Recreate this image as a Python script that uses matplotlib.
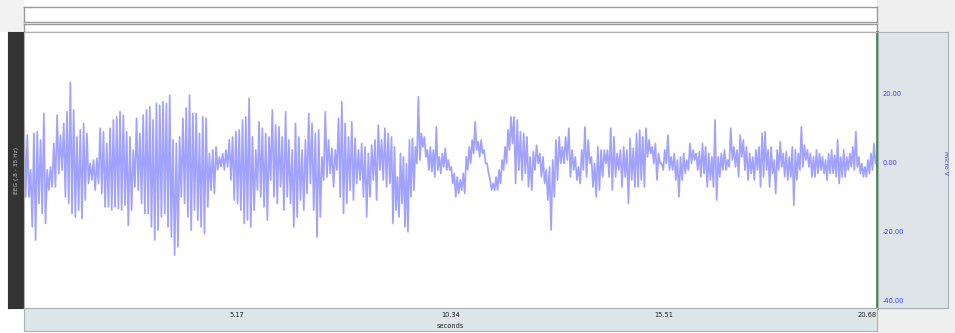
import numpy as np
import matplotlib
matplotlib.use("Agg")
import matplotlib.pyplot as plt

# ---- data (micro V), alternating peak / trough values ----
seg1 = [13.4, -9.8, 8.1, -9.8, -2.0, -18.5, 8.6, -22.3, 9.1, -11.7, 6.7, -14.6, 14.4, -17.5,
        -2.0, -7.8, -1.1, -6.9, 5.7, -6.9, 13.9, -3.0, 8.1, -2.0, 11.5, -9.8, 14.9, -11.7,
        23.3, -14.6, 15.4, -15.6, 7.6, -13.6, 9.6, -16.1, 11.5, -10.7, 8.6, -5.9, -0.1, -4.9,
        0.9, -7.8, 1.4, -5.9, 10.1, -8.8, 9.1, -12.7, 5.7, -12.7, 10.1, -13.6, 12.5, -12.7,
        13.4, -13.2, 14.9, -13.6, 13.9, -12.2, 9.1, -18.0, 7.6, -13.6, 3.8, -6.9, 13.0, -7.8,
        8.6, -11.7, 13.9, -14.6]
seg2 = [15.4, -14.6, 16.3, -18.5, 12.5, -22.3, 17.3, -19.4, 16.8, -15.6, 17.8, -14.6,
        17.3, -18.5, 19.7, -21.4, 6.7, -26.7, 5.7, -24.3, 7.6, -9.8, 13.0, -11.7, 15.9, -15.6,
        19.7, -19.4, 14.4, -13.6, 14.4, -16.5, 8.6, -18.5, 13.4, -20.4, 13.0, -12.7, 2.8, -7.8,
        3.8, -8.8, 4.7, -2.0, 1.8, -1.1, 2.8, -2.0, 3.8, -1.1, 6.7, -4.9, 7.6, -10.7, 9.1, -11.7,
        9.6, -13.6, 12.5, -17.5, 13.4, -16.5, 18.8, -18.5, 7.6, -13.6, 3.8, -7.8, 12.0, -9.8,
        10.1, -12.7, 8.6, -16.5]
seg3 = [7.6, -4.9, 15.4, -9.8, 11.0, -11.7, 10.5, -6.9, 7.6, -13.6, 14.9, -9.8, 6.7, -11.7,
        3.8, -18.5, 11.5, -15.6, 7.6, -10.7, 3.8, -13.6, 6.7, -8.8, 14.4, -5.9, 11.5, -13.6,
        8.6, -21.4, 9.6, -15.6, 1.8, -4.9, 14.9, -4.0, 6.7, -3.0, 4.3, -6.9, 3.8, -2.0, 13.0, -9.8,
        17.8, -14.6, 11.5, -11.7, 7.6, -7.8, 12.0, -10.7, 7.2, -5.9, 3.8, -4.9, 5.7, -9.8,
        4.7, -15.6, 2.8, -9.8, 5.2, -4.9, 6.7, -10.7, 11.0, -2.0, 6.7, -4.9, 10.1, -6.9, 8.6, -5.9]
seg4 = [7.6, -17.5, 4.7, -13.6, -4.0, -15.6, 2.8, -11.7, 1.8, -18.5, -0.1, -19.9, 6.7, -9.8,
        7.2, -7.8, 4.7, -0.1, 19.2, 0.9, 8.6, 4.7, 7.6, 1.8, 3.8, -2.0, 4.7, -2.5, 3.8, -4.0,
        10.5, -2.0, 1.8, -3.0, 2.8, -1.1, 4.3, -2.0, 0.9, -2.0, -1.1, -5.9, -3.0, -9.8, -4.0, -8.8,
        -4.9, -7.8, -3.0, -8.8, 1.8, -2.0, 4.7, -0.1, 6.7, 2.8, 12.0, 3.8, 6.2, 1.8, 6.7, 2.8,
        3.8, -0.1, -0.1, -3.0, -4.9, -7.8, -5.9, -7.8, -4.0, -7.8, -2.0, -5.9, 0.9, -2.0,
        4.7, -0.1, 9.6, 3.8, 13.4, 5.7]
seg5 = [13.4, -5.9, 12.5, -2.0, 9.1, -4.9, 8.6, -3.0, 7.6, -6.9, 1.8, -7.8, 3.3, -2.0,
        5.2, -0.1, 2.8, -4.0, 1.8, -5.9, -2.0, -10.7, -1.1, -19.4, 0.9, -9.8, 6.7, -4.9,
        7.6, -0.1, 4.7, -0.1, 7.6, 0.9, 10.1, -4.0, 3.8, -2.0, 1.8, -4.9, -1.1, -5.9, 3.8, -2.0,
        10.5, -4.0, 6.7, -0.1, 1.8, -6.9, -0.1, -9.8, 4.7, -7.8, 3.8, -4.0, 3.8, -0.1, 3.8, -4.0,
        10.1, -7.8, 7.6, -4.0, 2.8, -2.0, 3.8, -6.9, 4.7, -4.0, 3.8, -11.7, 7.2, -4.9, 4.3, -6.9]
seg6 = [8.6, -6.9, 9.6, -4.9, 7.6, -6.9, 10.1, 1.8, 6.7, 2.8, 4.7, -0.1, 5.7, -4.9,
        2.8, -0.1, -0.1, -2.0, 3.8, -0.1, 8.1, -2.0, 1.8, -2.0, 2.8, -4.9, 0.9, -9.8,
        1.8, -4.9, 2.8, -3.0, 0.9, -2.0, 5.7, -0.1, 3.8, 0.9, 2.8, -2.0, 3.3, -4.0, 5.7, -3.0,
        4.7, -6.9, 2.8, -4.9, 1.8, -6.9, 12.5, -10.7, 1.8, -4.0, 2.8, -2.0, 3.8, -2.0,
        0.9, -1.1, 10.1, 0.9, 4.7, -1.1, 3.8, -4.0, 8.1, 1.8, 6.7, -2.0, 4.7, -4.9, 2.8, -3.0,
        1.8, -4.9, 3.8, -2.0]
seg7 = [4.7, -6.9, 8.6, -4.0, 9.1, -2.0, 3.8, -6.9, 4.7, -3.0, 0.9, -8.8, 3.8, -2.0,
        6.2, -1.1, 2.8, -4.0, 3.3, -4.9, 1.8, -4.0, 4.7, -12.2, 3.8, -4.9, 2.8, -2.0,
        10.5, -1.1, 5.2, 0.9, 3.8, -1.1, 2.8, -4.0, 1.8, -4.0, 3.8, -3.0, 2.8, -2.0, 1.8, -3.0,
        0.9, -4.9, 2.8, -3.0, 3.8, -3.0, 2.3, -4.0, 6.7, -5.9, 1.8, -4.0, 3.8, -4.0, 1.8, -2.0,
        2.8, -1.1, 4.7, -2.0, 9.1, -1.1, 1.8, -3.0, -0.1, -4.0, -1.1, -4.0, 0.9, -3.0,
        2.8, -2.0, 5.7, -0.1]
segments = [seg1, seg2, seg3, seg4, seg5, seg6, seg7]
seg_bounds = [0.0, 2.97, 5.94, 8.91, 11.88, 14.85, 17.82, 20.68]   # seconds

x_ticks = [5.17, 10.34, 15.51, 20.68]
y_ticks = [20, 0, -20, -40]
x_label = "seconds"
y_label = "micro V"
channel_label = "EEG (.8 - 35 Hz)"

# ---- build time axis ----
t_all, v_all = [], []
for seg, a, b in zip(segments, seg_bounds[:-1], seg_bounds[1:]):
    t_all.append(np.linspace(a, b, len(seg), endpoint=False))
    v_all.append(np.asarray(seg, dtype=float))
t_all = np.concatenate(t_all)
v_all = np.concatenate(v_all)

W, H = 955, 333
fig = plt.figure(figsize=(W / 100, H / 100), dpi=100)
fig.patch.set_facecolor("white")

def fax(x0, y0, x1, y1, **kw):
    """axes from pixel box (top-left origin)"""
    return fig.add_axes([x0 / W, 1 - y1 / H, (x1 - x0) / W, (y1 - y0) / H], **kw)

def clean(a):
    a.set_xticks([]); a.set_yticks([])

# light gray background areas
bg = fax(877, 0, 955, 333)
bg.set_facecolor("#efefef"); clean(bg)
for s in bg.spines.values(): s.set_visible(False)
bg2 = fax(0, 0, 24, 32)
bg2.set_facecolor("#f2f2f2"); clean(bg2)
for s in bg2.spines.values(): s.set_visible(False)

# top bars
for (y0, y1) in [(7, 22), (24, 32)]:
    tb = fax(24, y0, 877, y1)
    tb.set_facecolor("white"); clean(tb)
    for s in tb.spines.values():
        s.set_color("#9a9a9a"); s.set_linewidth(1.0)

# left dark label bar
lb = fax(8, 32, 24, 308)
lb.set_facecolor("#333333"); clean(lb)
for s in lb.spines.values(): s.set_color("#333333")
lb.text(0.5, 0.5, channel_label, rotation=90, ha="center", va="center",
        color="#c8c8c8", fontsize=4.2, transform=lb.transAxes)

# main plot
ax = fax(24, 32, 877, 308)
ax.set_facecolor("white")
ax.plot(t_all, v_all, color="#8a8aff", lw=1.25, alpha=0.8)
ax.set_xlim(0, 20.68)
ax.set_ylim(-42, 38)
clean(ax)
for s in ax.spines.values():
    s.set_color("#b0b0b0"); s.set_linewidth(0.8)
ax.spines["right"].set_color("#3f8a4f"); ax.spines["right"].set_linewidth(2.0)

# right panel
rp = fax(878, 32, 948, 308)
rp.set_facecolor("#dde5e8")
rp.set_ylim(-42, 38); rp.set_xlim(0, 1)
clean(rp)
for s in rp.spines.values(): s.set_color("#a8b2b5"); s.set_linewidth(0.8)
for yv in y_ticks:
    rp.text(0.06, yv, f"{yv:.2f}", ha="left", va="center", color="#3c3cff", fontsize=4.8)
rp.text(0.97, 0, y_label, rotation=270, ha="center", va="center", color="#3c3cff", fontsize=4.5)

# bottom panel
bp = fax(24, 308, 877, 331)
bp.set_facecolor("#dde5e8")
bp.set_xlim(0, 20.68); bp.set_ylim(0, 1)
clean(bp)
for s in bp.spines.values(): s.set_color("#a8b2b5"); s.set_linewidth(0.8)
for xv in x_ticks:
    ha = "right" if xv == x_ticks[-1] else "center"
    bp.text(xv, 0.7, f"{xv:.2f}", ha=ha, va="center", color="#222222", fontsize=4.8)
bp.text(x_ticks[1], 0.2, x_label, ha="center", va="center", color="#222222", fontsize=4.8)

fig.savefig("out.png", dpi=100, facecolor=fig.get_facecolor())
